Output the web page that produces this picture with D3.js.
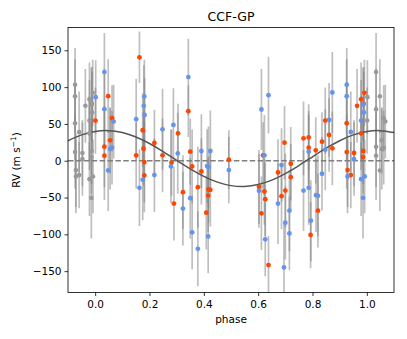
<!DOCTYPE html>
<html>
<head>
<meta charset="utf-8">
<script src="https://cdn.jsdelivr.net/npm/d3@7"></script>
<style>
  body { margin: 0; background: #fff; }
  text { font-family: "DejaVu Sans", sans-serif; }
</style>
</head>
<body>
<div id="chart"></div>
<script>
// instrument 1 (orange-red points)
const phaseA = [0.001, 0.048, 0.062, 0.034, 0.034, 0.055, 0.163, 0.175, 0.151, 0.178, 0.181, 0.181,
  0.218, 0.248, 0.281, 0.305, 0.290, 0.343, 0.350, 0.357, 0.391, 0.323, 0.378, 0.417, 0.424, 0.416,
  0.409, 0.492, 0.618, 0.603, 0.623, 0.626, 0.612, 0.638, 0.697, 0.673, 0.700, 0.686, 0.720, 0.720,
  0.767, 0.786, 0.786, 0.812, 0.835, 0.847, 0.861, 0.873, 0.793, 0.820, 0.926, 0.926, 0.929, 0.941,
  0.953, 0.964, 0.979, 0.991, 0.988, 0.979, 0.987, 0.986];
const rvA = [54.6, 87.7, 57.7, 19.1, 6.8, 27.7, 140.5, 41.4, 7.3, 16.4, -1.8, -20,
  24.1, 7.3, -2.7, 37.3, -58.2, 67.3, 12.3, -7.7, -14.5, -42.7, -35.9, -39.1, -39.5, -47.3,
  -70.5, 1.4, 7.3, -35.5, -41.8, -52.3, -71.4, -141.8, 24.5, -15.9, -40.5, -48.2, -4.1, -22.3,
  30.4, 31.8, 17.7, 14.1, 25.9, 54.6, 35, 16.8, -100.9, -67.8, 50.9, 11.8, -12.7, -19.5,
  10.5, 74.6, 83.6, 92.3, 77.3, 37.3, 13.2, 5];
const errA = [45, 50, 45, 55, 60, 45, 35, 50, 45, 50, 55, 50,
  45, 50, 45, 40, 50, 35, 45, 50, 45, 50, 55, 45, 50, 50,
  50, 40, 45, 50, 45, 50, 50, 40, 50, 45, 50, 45, 50, 45,
  50, 45, 50, 45, 40, 45, 50, 50, 45, 50, 50, 50, 50, 45,
  45, 50, 50, 45, 50, 50, 45, 50];

// instrument 2 (blue points)
const phaseB = [0.002, 0.034, 0.034, 0.068, 0.055, 0.062, 0.048, 0.151, 0.181, 0.179, 0.182, 0.175,
  0.163, 0.218, 0.248, 0.288, 0.304, 0.279, 0.343, 0.391, 0.424, 0.412, 0.417, 0.323, 0.350, 0.357,
  0.378, 0.416, 0.492, 0.612, 0.638, 0.603, 0.623, 0.626, 0.695, 0.686, 0.673, 0.700, 0.715, 0.715,
  0.767, 0.786, 0.786, 0.794, 0.813, 0.820, 0.835, 0.847, 0.861, 0.873, 0.926, 0.926, 0.929, 0.941,
  0.953, 0.979, 0.986, 0.989, 0.979, 0.986, 0.992];
const rvB = [86.4, 120.5, 70, 53.2, 16, 17.7, -13.2, 56.4, 87.3, 74.6, 62.3, -25.9,
  -36.8, -19.5, 42.7, 48.6, 10, -7.7, 113.6, 13.2, 13.2, -7.3, -8.6, -65, -50.9, -97.3,
  -119.6, -102.8, -12.7, 69.6, 89.1, -40.9, 7.3, -106.8, -145, -5.9, -58.2, -84.1, -67.8, -98.7,
  -40.5, 12.3, -36.8, -81.4, -46.8, -47.7, -17.7, 15, 55.5, 92.7, 103.2, 87.7, -21.4, 39.1,
  2.3, 54.6, 76.4, 65.5, -25, -50.5, -21.4];
const errB = [50, 53, 55, 50, 55, 50, 55, 55, 50, 55, 50, 55,
  52, 50, 55, 50, 55, 50, 52, 50, 55, 50, 55, 50, 55, 50,
  51, 50, 45, 55, 52, 50, 55, 50, 60, 50, 55, 50, 55, 50,
  55, 50, 50, 55, 50, 55, 50, 55, 50, 55, 50, 50, 50, 55,
  50, 55, 50, 55, 50, 55, 50];

// model curve
const curvePhase = [-0.10, -0.05, 0.00, 0.05, 0.10, 0.15, 0.20, 0.25, 0.30, 0.35, 0.40, 0.45, 0.50,
  0.55, 0.60, 0.65, 0.70, 0.75, 0.80, 0.85, 0.90, 0.95, 1.00, 1.05, 1.10];
const curveRV = [27.2, 35.1, 39.8, 40.9, 38.3, 32.3, 23.4, 12.5, 0.6, -11.0, -21.2, -29.1, -33.8,
  -34.9, -32.3, -26.3, -17.4, -6.5, 5.4, 17.0, 27.2, 35.1, 39.8, 40.9, 38.3];

const xTicks = [0.0, 0.2, 0.4, 0.6, 0.8, 1.0];
const yTicks = [-150, -100, -50, 0, 50, 100, 150];

const width = 407, height = 339;
const margin = {top: 27.5, right: 13, bottom: 46.5, left: 68};

const svg = d3.select("#chart")
  .append("svg")
  .attr("width", width)
  .attr("height", height);

const x = d3.scaleLinear()
  .domain([-0.1, 1.1])
  .range([margin.left, width - margin.right]);

const y = d3.scaleLinear()
  .domain([-179, 181])
  .range([height - margin.bottom, margin.top]);

svg.append("clipPath").attr("id", "clip")
  .append("rect")
  .attr("x", margin.left).attr("y", margin.top)
  .attr("width", width - margin.left - margin.right)
  .attr("height", height - margin.top - margin.bottom);

const toPoints = (ph, rv, err, inst) => ph.map((p, i) => ({phase: p, rv: rv[i], err: err[i], inst}));
const ptsA = toPoints(phaseA, rvA, errA, "A");
const ptsB = toPoints(phaseB, rvB, errB, "B");
const main = ptsA.concat(ptsB);

// wrapped copies shown in grey outside 0..1
const wrapped = [];
main.forEach(d => {
  if (d.phase > 0.9) wrapped.push({...d, phase: d.phase - 1});
  if (d.phase < 0.1) wrapped.push({...d, phase: d.phase + 1});
});

const plot = svg.append("g").attr("clip-path", "url(#clip)");

// error bars
plot.selectAll(".ebar")
  .data(wrapped.concat(main))
  .enter()
  .append("line")
  .attr("x1", d => x(d.phase))
  .attr("x2", d => x(d.phase))
  .attr("y1", d => y(d.rv - d.err))
  .attr("y2", d => y(d.rv + d.err))
  .attr("stroke", "gray")
  .attr("stroke-opacity", 0.5)
  .attr("stroke-width", 1.7);

// zero line
plot.append("line")
  .attr("x1", margin.left).attr("x2", width - margin.right)
  .attr("y1", y(0)).attr("y2", y(0))
  .attr("stroke", "#7f7f7f")
  .attr("stroke-width", 1.5)
  .attr("stroke-dasharray", "5.5,2.4");

// model
const line = d3.line()
  .x((d, i) => x(curvePhase[i]))
  .y(d => y(d))
  .curve(d3.curveNatural);

plot.append("path")
  .datum(curveRV)
  .attr("d", line)
  .attr("fill", "none")
  .attr("stroke", "#555")
  .attr("stroke-width", 1.5);

// points
plot.selectAll(".gpt")
  .data(wrapped)
  .enter()
  .append("circle")
  .attr("cx", d => x(d.phase))
  .attr("cy", d => y(d.rv))
  .attr("r", 2.3)
  .attr("fill", "#999");

const color = {A: "#ff4500", B: "#6495ed"};
plot.selectAll(".pt")
  .data(main)
  .enter()
  .append("circle")
  .attr("cx", d => x(d.phase))
  .attr("cy", d => y(d.rv))
  .attr("r", 2.4)
  .attr("fill", d => color[d.inst]);

// axes
const xAxis = svg.append("g")
  .attr("transform", `translate(0,${height - margin.bottom})`)
  .call(d3.axisBottom(x).tickValues(xTicks).tickFormat(d3.format(".1f")).tickSize(3.5).tickSizeOuter(0));

const yAxis = svg.append("g")
  .attr("transform", `translate(${margin.left},0)`)
  .call(d3.axisLeft(y).tickValues(yTicks).tickFormat(d => d < 0 ? "\u2212" + Math.abs(d) : d).tickSize(3.5).tickSizeOuter(0));

[xAxis, yAxis].forEach(g => {
  g.select(".domain").remove();
  g.selectAll(".tick line").attr("stroke", "#000").attr("stroke-width", 0.8);
  g.selectAll(".tick text").attr("fill", "#000").style("font-size", "10.5px")
    .style("font-family", "DejaVu Sans");
});
xAxis.selectAll(".tick text").attr("dy", "0.9em");

// frame
svg.append("rect")
  .attr("x", margin.left).attr("y", margin.top)
  .attr("width", width - margin.left - margin.right)
  .attr("height", height - margin.top - margin.bottom)
  .attr("fill", "none")
  .attr("stroke", "#000")
  .attr("stroke-width", 0.8);

// labels
svg.append("text")
  .attr("x", (margin.left + width - margin.right) / 2)
  .attr("y", margin.top - 7)
  .attr("text-anchor", "middle")
  .style("font-size", "12.5px")
  .text("CCF-GP");

svg.append("text")
  .attr("x", (margin.left + width - margin.right) / 2)
  .attr("y", height - margin.bottom + 30)
  .attr("text-anchor", "middle")
  .style("font-size", "10.5px")
  .text("phase");

const yl = svg.append("text")
  .attr("transform", `translate(20,${(margin.top + height - margin.bottom) / 2}) rotate(-90)`)
  .attr("text-anchor", "middle")
  .style("font-size", "10.5px");
yl.append("tspan").text("RV (m s");
yl.append("tspan").attr("dy", -4).style("font-size", "7.5px").text("\u22121");
yl.append("tspan").attr("dy", 4).text(")");
</script>
</body>
</html>
